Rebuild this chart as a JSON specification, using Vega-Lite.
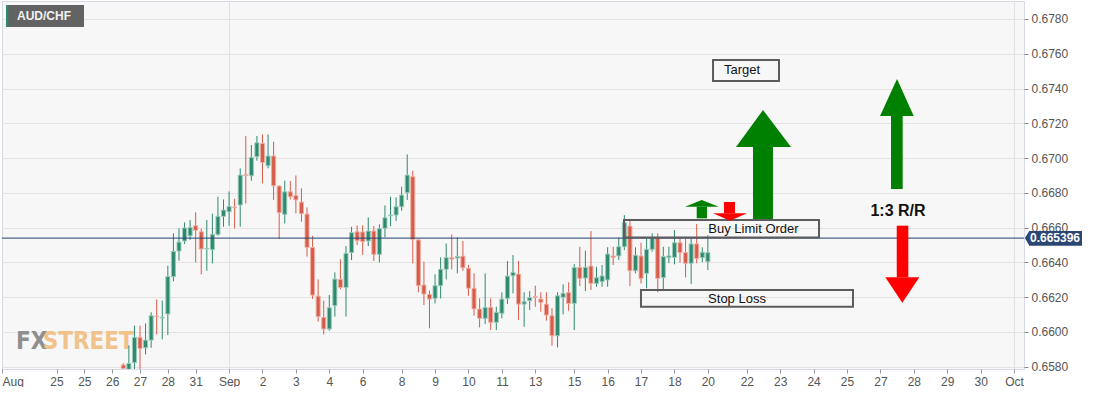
{
  "$schema": "https://vega.github.io/schema/vega-lite/v6.json",
  "width": 1022,
  "height": 368,
  "padding": {"left": 1, "top": 1, "right": 0, "bottom": 0},
  "background": "white",
  "config": {
    "view": {"fill": "#f7f7f7", "stroke": "#d6dae8"},
    "font": "Liberation Sans",
    "axis": {"labelFont": "Liberation Sans", "labelFontSize": 12, "labelColor": "#555555", "labelOverlap": false, "labelPadding": 3, "tickSize": 4, "domain": false, "title": null},
    "axisX": {"tickColor": "#999999", "labelFlush": true},
    "axisY": {"tickColor": "#888888", "grid": true, "gridColor": "#e3e3e3"}
  },
  "datasets": {
    "candles": [
      {"i":0,"o":0.6581,"h":0.6582,"l":0.6577,"c":0.6579},
      {"i":1,"o":0.65785,"h":0.65923,"l":0.6577,"c":0.65819},
      {"i":2,"o":0.65823,"h":0.66036,"l":0.65785,"c":0.65969},
      {"i":3,"o":0.65969,"h":0.66036,"l":0.65781,"c":0.65904},
      {"i":4,"o":0.65909,"h":0.66049,"l":0.65871,"c":0.65953},
      {"i":5,"o":0.65953,"h":0.66113,"l":0.65909,"c":0.66093},
      {"i":6,"o":0.66091,"h":0.66187,"l":0.65986,"c":0.66088},
      {"i":7,"o":0.6608,"h":0.6618,"l":0.65957,"c":0.66084},
      {"i":8,"o":0.66103,"h":0.66381,"l":0.65982,"c":0.66318},
      {"i":9,"o":0.66318,"h":0.66567,"l":0.66291,"c":0.66463},
      {"i":10,"o":0.66465,"h":0.66596,"l":0.6641,"c":0.66517},
      {"i":11,"o":0.66523,"h":0.6663,"l":0.66506,"c":0.66598},
      {"i":12,"o":0.66553,"h":0.66644,"l":0.66529,"c":0.66601},
      {"i":13,"o":0.66611,"h":0.66688,"l":0.664,"c":0.66584},
      {"i":14,"o":0.66576,"h":0.66594,"l":0.66331,"c":0.66477},
      {"i":15,"o":0.66477,"h":0.66644,"l":0.66352,"c":0.66481},
      {"i":16,"o":0.66473,"h":0.6668,"l":0.66394,"c":0.66561},
      {"i":17,"o":0.66561,"h":0.66778,"l":0.66553,"c":0.66665},
      {"i":18,"o":0.66665,"h":0.66762,"l":0.66605,"c":0.66701},
      {"i":19,"o":0.66691,"h":0.66808,"l":0.66611,"c":0.66722},
      {"i":20,"o":0.66718,"h":0.66766,"l":0.66596,"c":0.66714},
      {"i":21,"o":0.6673,"h":0.66941,"l":0.66605,"c":0.66902},
      {"i":22,"o":0.66904,"h":0.67127,"l":0.66739,"c":0.669},
      {"i":23,"o":0.66898,"h":0.67075,"l":0.6687,"c":0.67004},
      {"i":24,"o":0.67008,"h":0.67127,"l":0.66985,"c":0.67088},
      {"i":25,"o":0.67084,"h":0.67136,"l":0.66854,"c":0.66975},
      {"i":26,"o":0.66956,"h":0.67136,"l":0.66941,"c":0.67012},
      {"i":27,"o":0.67012,"h":0.67094,"l":0.66759,"c":0.66841},
      {"i":28,"o":0.66839,"h":0.66843,"l":0.66534,"c":0.66686},
      {"i":29,"o":0.66676,"h":0.6687,"l":0.66624,"c":0.66806},
      {"i":30,"o":0.66806,"h":0.66868,"l":0.66762,"c":0.66778},
      {"i":31,"o":0.66785,"h":0.669,"l":0.66682,"c":0.66759},
      {"i":32,"o":0.66747,"h":0.66826,"l":0.66634,"c":0.6668},
      {"i":33,"o":0.66678,"h":0.66716,"l":0.66433,"c":0.66486},
      {"i":34,"o":0.66486,"h":0.66553,"l":0.66189,"c":0.66212},
      {"i":35,"o":0.66206,"h":0.66302,"l":0.66059,"c":0.66088},
      {"i":36,"o":0.66084,"h":0.6618,"l":0.65986,"c":0.66017},
      {"i":37,"o":0.66017,"h":0.66212,"l":0.66007,"c":0.66139},
      {"i":38,"o":0.66151,"h":0.66343,"l":0.66088,"c":0.66304},
      {"i":39,"o":0.66302,"h":0.66417,"l":0.66245,"c":0.66256},
      {"i":40,"o":0.66256,"h":0.66494,"l":0.66088,"c":0.66452},
      {"i":41,"o":0.66456,"h":0.66605,"l":0.66413,"c":0.66571},
      {"i":42,"o":0.66576,"h":0.66613,"l":0.665,"c":0.66525},
      {"i":43,"o":0.66575,"h":0.66613,"l":0.66442,"c":0.66519},
      {"i":44,"o":0.66523,"h":0.66659,"l":0.66494,"c":0.6658},
      {"i":45,"o":0.6658,"h":0.66609,"l":0.66408,"c":0.66446},
      {"i":46,"o":0.66446,"h":0.66619,"l":0.664,"c":0.66594},
      {"i":47,"o":0.66596,"h":0.66728,"l":0.66544,"c":0.66657},
      {"i":48,"o":0.66668,"h":0.66778,"l":0.66609,"c":0.66672},
      {"i":49,"o":0.66672,"h":0.66774,"l":0.66638,"c":0.6672},
      {"i":50,"o":0.6672,"h":0.66835,"l":0.66697,"c":0.66787},
      {"i":51,"o":0.66801,"h":0.67021,"l":0.66759,"c":0.66902},
      {"i":52,"o":0.66893,"h":0.66927,"l":0.66394,"c":0.66532},
      {"i":53,"o":0.66529,"h":0.66532,"l":0.66228,"c":0.66266},
      {"i":54,"o":0.6627,"h":0.66404,"l":0.66155,"c":0.66218},
      {"i":55,"o":0.66216,"h":0.66237,"l":0.66021,"c":0.66189},
      {"i":56,"o":0.66193,"h":0.66331,"l":0.66164,"c":0.66266},
      {"i":57,"o":0.66266,"h":0.66429,"l":0.66193,"c":0.6636},
      {"i":58,"o":0.6636,"h":0.66509,"l":0.66302,"c":0.66427},
      {"i":59,"o":0.66427,"h":0.66561,"l":0.6636,"c":0.66419},
      {"i":60,"o":0.66425,"h":0.66544,"l":0.66337,"c":0.66433},
      {"i":61,"o":0.66436,"h":0.66523,"l":0.66352,"c":0.66369},
      {"i":62,"o":0.66366,"h":0.66385,"l":0.66208,"c":0.66251},
      {"i":63,"o":0.66251,"h":0.66337,"l":0.66093,"c":0.66132},
      {"i":64,"o":0.66132,"h":0.66193,"l":0.66026,"c":0.66078},
      {"i":65,"o":0.66078,"h":0.66337,"l":0.66045,"c":0.66141},
      {"i":66,"o":0.66141,"h":0.66193,"l":0.66011,"c":0.66055},
      {"i":67,"o":0.66055,"h":0.66145,"l":0.66011,"c":0.66113},
      {"i":68,"o":0.66107,"h":0.66228,"l":0.66078,"c":0.66189},
      {"i":69,"o":0.66193,"h":0.66408,"l":0.6616,"c":0.66321},
      {"i":70,"o":0.66323,"h":0.66442,"l":0.66222,"c":0.66343},
      {"i":71,"o":0.66333,"h":0.66408,"l":0.66068,"c":0.6616},
      {"i":72,"o":0.6616,"h":0.66228,"l":0.6603,"c":0.66174},
      {"i":73,"o":0.6618,"h":0.66235,"l":0.66126,"c":0.66197},
      {"i":74,"o":0.66203,"h":0.66266,"l":0.66145,"c":0.66199},
      {"i":75,"o":0.66189,"h":0.66228,"l":0.66116,"c":0.6617},
      {"i":76,"o":0.6616,"h":0.66228,"l":0.66065,"c":0.66097},
      {"i":77,"o":0.66093,"h":0.66136,"l":0.65921,"c":0.65978},
      {"i":78,"o":0.65978,"h":0.66228,"l":0.65911,"c":0.66208},
      {"i":79,"o":0.66199,"h":0.66274,"l":0.66101,"c":0.66222},
      {"i":80,"o":0.66226,"h":0.66285,"l":0.66122,"c":0.66164},
      {"i":81,"o":0.66164,"h":0.6639,"l":0.66011,"c":0.66371},
      {"i":82,"o":0.66371,"h":0.6649,"l":0.66264,"c":0.66308},
      {"i":83,"o":0.6631,"h":0.66467,"l":0.66235,"c":0.66371},
      {"i":84,"o":0.66379,"h":0.6658,"l":0.66241,"c":0.66279},
      {"i":85,"o":0.66279,"h":0.66375,"l":0.6626,"c":0.66312},
      {"i":86,"o":0.66289,"h":0.66385,"l":0.6626,"c":0.66322},
      {"i":87,"o":0.66299,"h":0.66487,"l":0.6626,"c":0.66448},
      {"i":88,"o":0.66437,"h":0.6649,"l":0.66385,"c":0.66429},
      {"i":89,"o":0.66437,"h":0.66544,"l":0.66414,"c":0.6649},
      {"i":90,"o":0.6649,"h":0.66672,"l":0.66471,"c":0.66628},
      {"i":91,"o":0.66609,"h":0.66638,"l":0.66264,"c":0.66352},
      {"i":92,"o":0.66352,"h":0.66487,"l":0.66337,"c":0.66441},
      {"i":93,"o":0.66437,"h":0.66513,"l":0.66279,"c":0.66308},
      {"i":94,"o":0.66337,"h":0.66538,"l":0.66251,"c":0.66475},
      {"i":95,"o":0.66475,"h":0.66567,"l":0.66462,"c":0.66538},
      {"i":96,"o":0.66538,"h":0.66567,"l":0.66228,"c":0.66308},
      {"i":97,"o":0.66312,"h":0.6649,"l":0.66235,"c":0.66433},
      {"i":98,"o":0.66427,"h":0.6649,"l":0.66395,"c":0.66437},
      {"i":99,"o":0.66429,"h":0.66586,"l":0.66389,"c":0.66513},
      {"i":100,"o":0.66513,"h":0.66538,"l":0.66398,"c":0.66456},
      {"i":101,"o":0.66456,"h":0.66538,"l":0.66314,"c":0.66395},
      {"i":102,"o":0.66395,"h":0.66538,"l":0.66276,"c":0.66506},
      {"i":103,"o":0.66506,"h":0.66621,"l":0.66395,"c":0.66423},
      {"i":104,"o":0.66427,"h":0.66487,"l":0.664,"c":0.66458},
      {"i":105,"o":0.66404,"h":0.66557,"l":0.66356,"c":0.66456}
    ],
    "boxes": [
      {"x":89.94,"x2":124.97,"y":0.666438,"y2":0.665432},
      {"x":92.99,"x2":131.07,"y":0.662412,"y2":0.661451},
      {"x":105.93,"x2":117.78,"y":0.675642,"y2":0.674434}
    ],
    "boxlabels": [
      {"x":113.2,"y":0.665921,"text":"Buy Limit Order"},
      {"x":110.24,"y":0.661923,"text":"Stop Loss"},
      {"x":111.13,"y":0.675067,"text":"Target"}
    ],
    "shafts": [
      {"arrow":"a","dir":"up","x":113.11,"x2":116.7,"y":0.670637,"y2":0.666496},
      {"arrow":"b","dir":"up","x":103.0,"x2":104.85,"y":0.667203,"y2":0.666536},
      {"arrow":"c","dir":"down","x":107.9,"x2":109.88,"y":0.667474,"y2":0.666824},
      {"arrow":"d","dir":"up","x":137.9,"x2":140.0,"y":0.672421,"y2":0.668221},
      {"arrow":"e","dir":"down","x":138.93,"x2":141.01,"y":0.666111,"y2":0.663142}
    ],
    "heads": [
      {"arrow":"a","dir":"up","x":110.06,"y":0.670637,"y2":0.670637},
      {"arrow":"a","dir":"up","x":114.91,"y":0.672766,"y2":0.670637},
      {"arrow":"a","dir":"up","x":119.94,"y":0.670637,"y2":0.670637},
      {"arrow":"b","dir":"up","x":100.9,"y":0.667203,"y2":0.667203},
      {"arrow":"b","dir":"up","x":103.9,"y":0.667589,"y2":0.667203},
      {"arrow":"b","dir":"up","x":106.95,"y":0.667203,"y2":0.667203},
      {"arrow":"c","dir":"down","x":105.93,"y":0.666824,"y2":0.666824},
      {"arrow":"c","dir":"down","x":108.98,"y":0.666398,"y2":0.666824},
      {"arrow":"c","dir":"down","x":112.04,"y":0.666824,"y2":0.666824},
      {"arrow":"d","dir":"up","x":135.93,"y":0.672421,"y2":0.672421},
      {"arrow":"d","dir":"up","x":138.98,"y":0.674549,"y2":0.672421},
      {"arrow":"d","dir":"up","x":141.98,"y":0.672421,"y2":0.672421},
      {"arrow":"e","dir":"down","x":136.88,"y":0.663142,"y2":0.663142},
      {"arrow":"e","dir":"down","x":139.93,"y":0.661681,"y2":0.663142},
      {"arrow":"e","dir":"down","x":142.99,"y":0.663142,"y2":0.663142}
    ]
  },
  "layer": [
    {
      "data": {"values": [{"x":-19.27,"y":0.659018,"text":"FX"},{"x":-14.48,"y":0.659018,"text":"STREET"}]},
      "mark": {"type":"text","font":"Liberation Sans Narrow, DejaVu Sans Condensed, sans-serif","fontWeight":"bold","fontSize":24,"align":"left","baseline":"alphabetic"},
      "encoding": {
        "x": {"field":"x","type":"quantitative","scale":{"domain":[-21.79,161.79],"nice":false,"zero":false,"padding":0},
          "axis": {"title":null,"orient":"bottom","tickCount":100,"values":[-21.79,-12,-7,-2,3,8,13,19,25,31,37,43,50,56,62,68,74,81,87,93,99,105,112,118,124,130,136,142,148,154,160],
            "labelExpr":"['Aug','25','25','26','27','28','31','Sep','2','3','4','6','8','9','10','11','13','15','16','17','18','20','22','23','24','25','27','28','29','30','Oct'][indexof([-21.79,-12,-7,-2,3,8,13,19,25,31,37,43,50,56,62,68,74,81,87,93,99,105,112,118,124,130,136,142,148,154,160], datum.value)]",
            "labelOverlap": false,
            "grid": true, "gridColor": "#e2e2e2",
            "gridOpacity": {"condition": {"test": "datum.value == 19 || datum.value == 160", "value": 1}, "value": 0}}},
        "y": {"field":"y","type":"quantitative","scale":{"domain":[0.657868,0.679035],"nice":false,"zero":false,"padding":0},
          "axis": {"title":null,"orient":"right","tickCount":100,"values":[0.658,0.66,0.662,0.664,0.666,0.668,0.67,0.672,0.674,0.676,0.678],
            "format":".4f","labelOverlap":false}},
        "text": {"field":"text"},
        "color": {"condition": {"test": "datum.text == 'FX'", "value": "#8f8f8f"}, "value": "#f1c28a"}
      }
    },
    {
      "data": {"name": "candles"},
      "mark": {"type":"rule","strokeWidth":1,"clip":true},
      "encoding": {
        "x": {"field":"i","type":"quantitative","title":null},
        "y": {"field":"l","type":"quantitative","title":null,"axis":{"orient":"right"}},
        "y2": {"field":"h"},
        "color": {"condition": {"test": "datum.c >= datum.o", "value": "#2e8a6f"}, "value": "#d65b48"}
      }
    },
    {
      "data": {"name": "candles"},
      "mark": {"type":"bar","size":4,"strokeWidth":1,"clip":true},
      "encoding": {
        "x": {"field":"i","type":"quantitative","title":null},
        "y": {"field":"o","type":"quantitative","title":null,"axis":{"orient":"right"}},
        "y2": {"field":"c"},
        "fill": {"condition": {"test": "datum.c >= datum.o", "value": "#2e8a6f"}, "value": "#d65b48"},
        "stroke": {"condition": {"test": "datum.c >= datum.o", "value": "#98c9b9"}, "value": "#eeaea3"}
      }
    },
    {
      "data": {"values": [{"price": 0.665396}]},
      "mark": {"type":"rule","color":"#23406e","strokeWidth":1},
      "encoding": {"y": {"field":"price","type":"quantitative","title":null,"axis":{"orient":"right"}}}
    },
    {
      "data": {"name": "boxes"},
      "mark": {"type":"rect","fillOpacity":0,"stroke":"#5c5c5c","strokeWidth":2},
      "encoding": {
        "x": {"field":"x","type":"quantitative","title":null},
        "x2": {"field":"x2"},
        "y": {"field":"y","type":"quantitative","title":null,"axis":{"orient":"right"}},
        "y2": {"field":"y2"}
      }
    },
    {
      "data": {"name": "boxlabels"},
      "mark": {"type":"text","fontSize":13,"color":"#111111","align":"center","baseline":"middle"},
      "encoding": {
        "x": {"field":"x","type":"quantitative","title":null},
        "y": {"field":"y","type":"quantitative","title":null,"axis":{"orient":"right"}},
        "text": {"field":"text"}
      }
    },
    {
      "data": {"name": "shafts"},
      "mark": {"type":"rect"},
      "encoding": {
        "x": {"field":"x","type":"quantitative","title":null},
        "x2": {"field":"x2"},
        "y": {"field":"y","type":"quantitative","title":null,"axis":{"orient":"right"}},
        "y2": {"field":"y2"},
        "color": {"field":"dir","type":"nominal","scale":{"domain":["up","down"],"range":["#008000","#ff0000"]},"legend":null}
      }
    },
    {
      "data": {"name": "heads"},
      "mark": {"type":"area","orient":"vertical"},
      "encoding": {
        "x": {"field":"x","type":"quantitative","title":null},
        "y": {"field":"y","type":"quantitative","title":null,"axis":{"orient":"right"}},
        "y2": {"field":"y2"},
        "detail": {"field":"arrow"},
        "color": {"field":"dir","type":"nominal","legend":null}
      }
    },
    {
      "data": {"values": [{"x":139.16,"y":0.666973,"text":"1:3 R/R"}]},
      "mark": {"type":"text","fontSize":16,"fontWeight":"bold","color":"#111111","align":"center","baseline":"middle"},
      "encoding": {
        "x": {"field":"x","type":"quantitative","title":null},
        "y": {"field":"y","type":"quantitative","title":null,"axis":{"orient":"right"}},
        "text": {"field":"text"}
      }
    },
    {
      "data": {"values": [{"x":-21.07,"x2":-7.06,"y":0.678806,"y2":0.67754}]},
      "mark": {"type":"rect","color":"#636363"},
      "encoding": {
        "x": {"field":"x","type":"quantitative","title":null},
        "x2": {"field":"x2"},
        "y": {"field":"y","type":"quantitative","title":null,"axis":{"orient":"right"}},
        "y2": {"field":"y2"}
      }
    },
    {
      "data": {"values": [{"x":-21.07,"x2":-20.66,"y":0.678806,"y2":0.67754}]},
      "mark": {"type":"rect","color":"#2e8a6f"},
      "encoding": {
        "x": {"field":"x","type":"quantitative","title":null},
        "x2": {"field":"x2"},
        "y": {"field":"y","type":"quantitative","title":null,"axis":{"orient":"right"}},
        "y2": {"field":"y2"}
      }
    },
    {
      "data": {"values": [{"x":-19.09,"y":0.678173,"text":"AUD/CHF"}]},
      "mark": {"type":"text","fontSize":12,"fontWeight":"bold","color":"#f2f2f2","align":"left","baseline":"middle"},
      "encoding": {
        "x": {"field":"x","type":"quantitative","title":null},
        "y": {"field":"y","type":"quantitative","title":null,"axis":{"orient":"right"}},
        "text": {"field":"text"}
      }
    },
    {
      "data": {"values": [{"x":161.95,"y":0.665396,"y2":0.665396},{"x":162.75,"y":0.665806,"y2":0.66496}]},
      "mark": {"type":"area","color":"#2b4673","orient":"vertical"},
      "encoding": {
        "x": {"field":"x","type":"quantitative","title":null},
        "y": {"field":"y","type":"quantitative","title":null,"axis":{"orient":"right"}},
        "y2": {"field":"y2"}
      }
    },
    {
      "data": {"values": [{"x":162.69,"x2":172.21,"y":0.665806,"y2":0.66496}]},
      "mark": {"type":"rect","color":"#2b4673"},
      "encoding": {
        "x": {"field":"x","type":"quantitative","title":null},
        "x2": {"field":"x2"},
        "y": {"field":"y","type":"quantitative","title":null,"axis":{"orient":"right"}},
        "y2": {"field":"y2"}
      }
    },
    {
      "data": {"values": [{"x":167.36,"y":0.665396,"text":"0.665396"}]},
      "mark": {"type":"text","fontSize":12,"fontWeight":"bold","color":"#ffffff","align":"center","baseline":"middle"},
      "encoding": {
        "x": {"field":"x","type":"quantitative","title":null},
        "y": {"field":"y","type":"quantitative","title":null,"axis":{"orient":"right"}},
        "text": {"field":"text"}
      }
    }
  ]
}
